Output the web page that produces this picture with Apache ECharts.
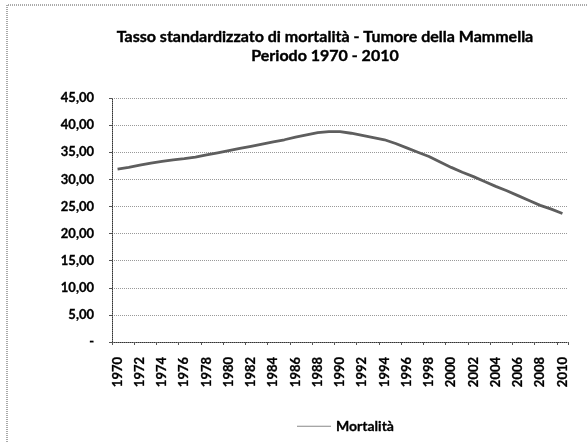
<!DOCTYPE html>
<html>
<head>
<meta charset="utf-8">
<script src="https://cdn.jsdelivr.net/npm/echarts@6/dist/echarts.min.js"></script>
<style>html,body{margin:0;padding:0;background:#fff;}#c{width:588px;height:442px;}</style>
</head>
<body>
<div id="c"></div>
<script>
const titleLines = ["Tasso standardizzato di mortalità - Tumore della Mammella", "Periodo 1970 - 2010"];
const seriesName = "Mortalità";
const years = [];
for (let y = 1970; y <= 2010; y++) years.push(String(y));
const mortalita = [
  31.9, 32.2, 32.6, 33.0, 33.3, 33.6, 33.8, 34.1, 34.5, 34.9,
  35.3, 35.7, 36.1, 36.5, 36.9, 37.3, 37.8, 38.2, 38.6, 38.8,
  38.8, 38.5, 38.1, 37.7, 37.3, 36.6, 35.8, 35.0, 34.2, 33.2,
  32.2, 31.3, 30.5, 29.6, 28.7, 27.9, 27.0, 26.1, 25.2, 24.5,
  23.7
];
const yMin = 0, yMax = 45, yStep = 5;

const font = 'Lato, "Open Sans", sans-serif';
const chart = echarts.init(document.getElementById('c'), null, {renderer: 'canvas'});
chart.setOption({
  backgroundColor: '#fff',
  animation: false,
  title: {
    text: titleLines.join('\n'),
    left: 320, top: 22, textAlign: 'center',
    textStyle: {fontFamily: font, fontWeight: 'bold', fontSize: 16, lineHeight: 19, color: '#000', textBorderColor: '#000', textBorderWidth: 0.4}
  },
  legend: {
    data: [seriesName],
    left: 292, top: 414,
    itemWidth: 34, itemHeight: 1, itemGap: 4,
    icon: 'rect',
    textStyle: {fontFamily: font, fontWeight: 'bold', fontSize: 14, color: '#000', textBorderColor: '#000', textBorderWidth: 0.3}
  },
  grid: {left: 112, right: 20, top: 98, bottom: 100, containLabel: false},
  xAxis: {
    type: 'category',
    data: years,
    boundaryGap: true,
    axisLine: {lineStyle: {color: '#333', type: 'dotted', width: 1}},
    axisTick: {show: true, interval: 1, length: 3, lineStyle: {color: '#555', type: 'solid'}},
    axisLabel: {interval: 1, rotate: 90, margin: 15, fontFamily: font, fontWeight: 'bold', fontSize: 13, color: '#000', textBorderColor: '#000', textBorderWidth: 0.3}
  },
  yAxis: {
    type: 'value',
    min: yMin, max: yMax, interval: yStep,
    axisLine: {show: true, lineStyle: {color: '#333', type: 'dotted', width: 1}},
    axisTick: {show: true, length: 3, lineStyle: {color: '#555'}},
    axisLabel: {
      margin: 18, fontFamily: font, fontWeight: 'bold', fontSize: 13, color: '#000', textBorderColor: '#000', textBorderWidth: 0.3,
      formatter: v => v === 0 ? '-' : v.toFixed(2).replace('.', ',')
    },
    splitLine: {show: true, lineStyle: {color: '#999', type: 'dotted', width: 1}}
  },
  series: [{
    name: seriesName,
    type: 'line',
    data: mortalita,
    symbol: 'none',
    smooth: false,
    lineStyle: {color: '#5e5e5e', width: 2.8},
    itemStyle: {color: '#888'}
  }],
  graphic: [
    {type: 'polyline', shape: {points: [[7,442],[7,5],[588,5]]}, style: {stroke: '#555', lineWidth: 1, lineDash: [1,1], fill: null}}
  ]
});
</script>
</body>
</html>
